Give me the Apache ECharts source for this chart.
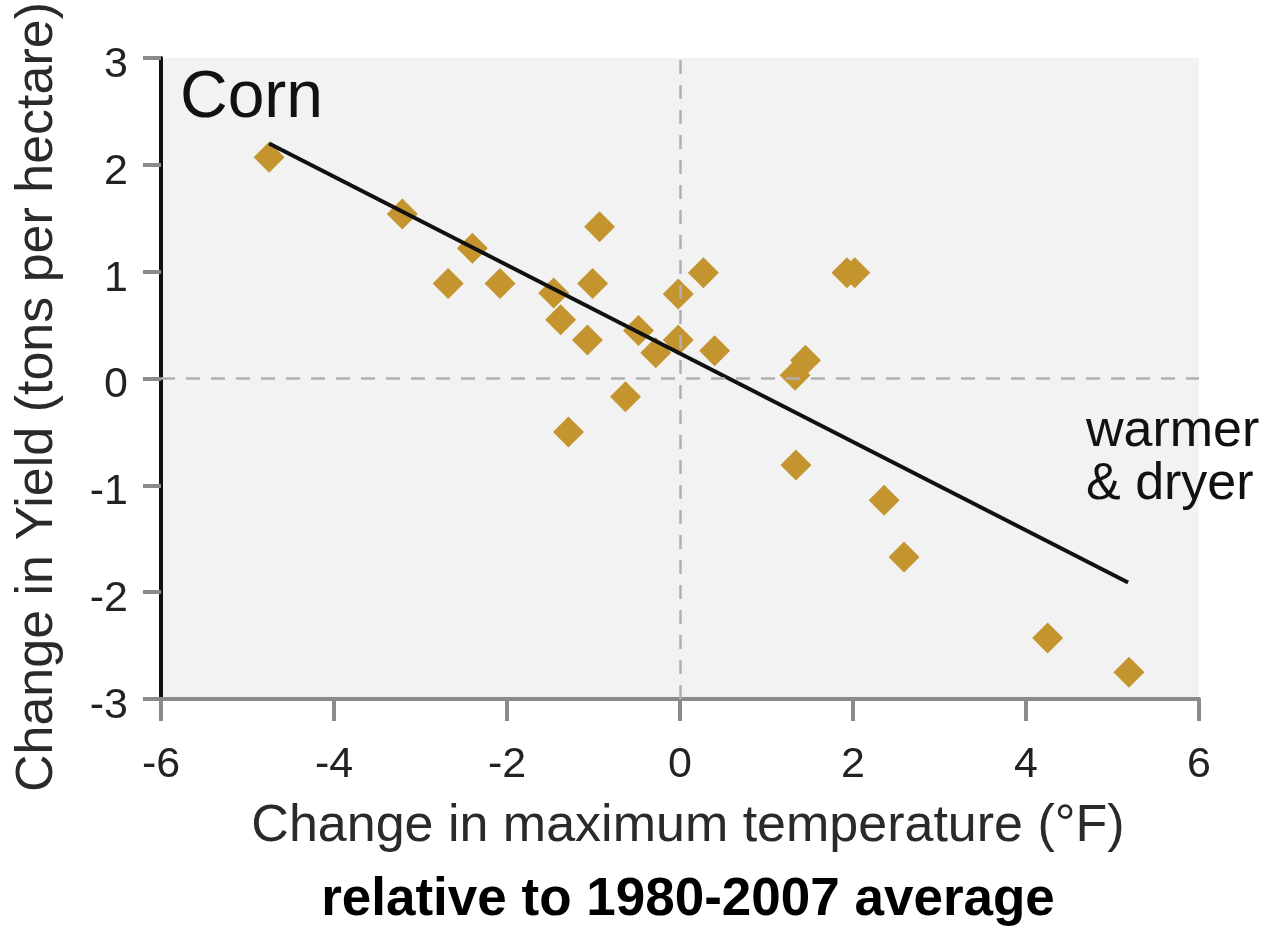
<!DOCTYPE html>
<html>
<head>
<meta charset="utf-8">
<script src="https://cdn.jsdelivr.net/npm/echarts@6/dist/echarts.min.js"></script>
<style>
html,body{margin:0;padding:0;background:#fff;}
#chart{width:1269px;height:927px;}
</style>
</head>
<body>
<div id="chart"></div>
<script>
// Data
var tempChange = [-4.75, -3.21, -2.40, -2.68, -2.08, -0.93, -1.46, -1.01, -1.38, -1.07, -0.48, -0.28, -0.02, 0.27, -0.02, 0.40, -0.63, -1.29, 1.93, 2.02, 1.45, 1.33, 1.34, 2.36, 2.59, 4.25, 5.19];
var yieldChange = [2.07, 1.54, 1.22, 0.89, 0.89, 1.42, 0.80, 0.89, 0.55, 0.36, 0.45, 0.24, 0.79, 0.99, 0.36, 0.26, -0.17, -0.50, 0.99, 0.99, 0.17, 0.03, -0.81, -1.14, -1.67, -2.43, -2.75];
var trendX = [-4.75, 5.18];
var trendY = [2.20, -1.91];
var xTicks = [-6, -4, -2, 0, 2, 4, 6];
var yTicks = [-3, -2, -1, 0, 1, 2, 3];

var FONT = '"Liberation Sans", Arial, Helvetica, sans-serif';

var scatterData = tempChange.map(function (x, i) { return [x, yieldChange[i]]; });
var trendData = trendX.map(function (x, i) { return [x, trendY[i]]; });

var chart = echarts.init(document.getElementById('chart'));
chart.setOption({
  animation: false,
  backgroundColor: '#ffffff',
  grid: {
    left: 161, right: 70, top: 58, bottom: 228,
    show: true, backgroundColor: '#f2f2f2', borderWidth: 0
  },
  xAxis: {
    type: 'value',
    min: xTicks[0], max: xTicks[xTicks.length - 1], interval: 2,
    axisLine: { onZero: false, lineStyle: { color: '#8a8a8a', width: 4 } },
    axisTick: { show: true, length: 22, lineStyle: { color: '#8a8a8a', width: 4 } },
    axisLabel: { margin: 45, fontSize: 43, color: '#222', fontFamily: FONT },
    splitLine: { show: false }
  },
  yAxis: {
    type: 'value',
    min: yTicks[0], max: yTicks[yTicks.length - 1], interval: 1,
    axisLine: { onZero: false, lineStyle: { color: '#111', width: 4 } },
    axisTick: { show: true, length: 18, lineStyle: { color: '#8a8a8a', width: 4 } },
    axisLabel: {
      margin: 33, color: '#222', fontFamily: FONT, fontSize: 43,
      formatter: function (v) { return '{a|' + v + '}'; },
      rich: { a: { fontSize: 43, fontFamily: FONT, color: '#222', padding: [14, 0, 0, 0] } }
    },
    splitLine: { show: false }
  },
  series: [
    {
      type: 'line',
      data: [],
      z: 1,
      markLine: {
        silent: true,
        symbol: 'none',
        label: { show: false },
        lineStyle: { color: '#b0b0b0', width: 2.5, type: [14, 11] },
        data: [{ xAxis: 0 }, { yAxis: 0 }]
      }
    },
    {
      type: 'scatter',
      z: 2,
      symbol: 'diamond',
      symbolSize: 31,
      itemStyle: { color: '#c4952f', opacity: 1 },
      data: scatterData
    },
    {
      type: 'line',
      z: 3,
      data: trendData,
      symbol: 'none',
      lineStyle: { color: '#111', width: 4 }
    }
  ],
  graphic: [
    {
      type: 'text', x: 180, y: 99,
      style: { text: 'Corn', font: '66px ' + FONT, fill: '#111', verticalAlign: 'middle', align: 'left' }
    },
    {
      type: 'text', x: 1086, y: 405,
      style: { text: 'warmer\n& dryer', font: '52px ' + FONT, lineHeight: 53, fill: '#111', verticalAlign: 'top', align: 'left' }
    },
    {
      type: 'text', x: 688, y: 827,
      style: { text: 'Change in maximum temperature (°F)', font: '52px ' + FONT, fill: '#2a2a2a', verticalAlign: 'middle', align: 'center' }
    },
    {
      type: 'text', x: 688, y: 900,
      style: { text: 'relative to 1980-2007 average', font: 'bold 53px ' + FONT, fill: '#000', verticalAlign: 'middle', align: 'center' }
    },
    {
      type: 'text', x: 38, y: 397, rotation: Math.PI / 2,
      style: { text: 'Change in Yield (tons per hectare)', font: '52px ' + FONT, fill: '#2a2a2a', verticalAlign: 'middle', align: 'center' }
    }
  ]
});
</script>
</body>
</html>
